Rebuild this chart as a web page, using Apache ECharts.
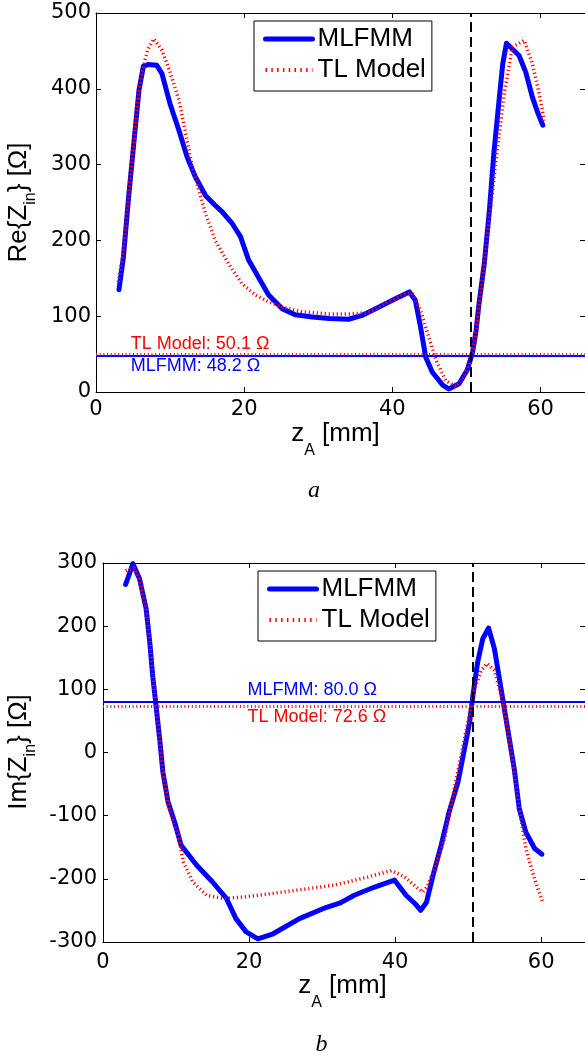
<!DOCTYPE html>
<html>
<head>
<meta charset="utf-8">
<script src="https://cdn.jsdelivr.net/npm/echarts@6/dist/echarts.min.js"></script>
<style>
  html, body { margin: 0; padding: 0; background: #fff; }
  #chart { width: 585px; height: 1064px; }
</style>
</head>
<body>
<div id="chart"></div>
<script>
// Input impedance versus feed position z_A [mm]: real part (a) and imaginary part (b)
const reMlfmm = [[3.1,135],[3.7,178],[4.4,257],[5.1,328],[5.8,398],[6.4,430],[7.0,432],[8.2,431],[8.9,420],[10.0,380],[11.2,345],[12.3,310],[13.4,284],[14.8,259],[16.0,247],[17.0,238],[18.4,222],[19.5,205],[20.6,174],[22.0,150],[23.3,128],[25.1,110],[26.9,102],[29.2,99],[31.5,97],[34.1,96],[35.9,101],[38.2,112],[40.4,123],[42.3,132],[43.1,121],[43.8,86],[44.5,46],[45.4,26],[46.8,9],[47.6,4],[49.0,11],[50.1,29],[50.8,51],[51.3,81],[51.7,117],[52.4,169],[53.1,240],[53.7,315],[54.4,385],[54.9,433],[55.4,460],[57.1,444],[58.0,422],[58.9,389],[59.6,369],[60.3,352]];
const reTl = [[3.0,145],[3.7,185],[4.4,260],[5.1,330],[5.8,398],[6.4,430],[7.0,452],[7.8,466],[8.9,451],[10.0,422],[11.2,385],[12.1,341],[13.0,297],[13.9,266],[14.8,235],[16.1,200],[17.9,169],[19.7,143],[21.5,128],[23.3,119],[25.1,112],[27.8,106],[31.4,103],[34.5,103],[36.8,105],[39.1,117],[41.4,128],[42.7,130],[43.8,108],[44.9,73],[45.9,42],[47.2,15],[48.6,7],[49.7,20],[50.6,42],[51.3,80],[52.2,152],[53.1,230],[54.0,306],[55.1,394],[56.2,455],[57.8,464],[58.9,433],[59.8,394],[60.5,358]];
const imMlfmm = [[3.1,266],[4.1,299],[5.0,275],[5.9,228],[6.4,175],[6.8,122],[7.3,70],[7.8,17],[8.2,-31],[8.9,-78],[9.8,-110],[10.7,-147],[12.8,-178],[15.0,-205],[16.9,-231],[18.2,-263],[19.6,-284],[21.2,-295],[23.3,-287],[26.9,-263],[30.6,-245],[32.5,-238],[34.4,-226],[37.2,-213],[39.9,-202],[41.5,-226],[42.7,-239],[43.5,-250],[44.3,-237],[45.2,-194],[46.3,-147],[47.4,-94],[48.6,-47],[49.5,6],[50.2,48],[50.65,90],[51.3,143],[52.0,180],[52.8,197],[53.6,164],[54.5,101],[55.4,38],[56.3,-25],[57.0,-89],[57.9,-126],[59.1,-152],[60.1,-161]];
const imTl = [[3.1,288],[4.3,292],[5.0,272],[5.9,228],[6.4,175],[6.8,122],[7.3,70],[7.8,17],[8.2,-31],[8.9,-80],[9.6,-110],[10.3,-131],[11.0,-173],[12.3,-205],[14.2,-226],[16.4,-231],[19.2,-229],[24.6,-221],[31.7,-210],[36.3,-197],[39.5,-187],[41.3,-197],[43.1,-215],[43.8,-221],[44.4,-212],[45.4,-184],[46.8,-136],[47.9,-68],[49.05,-4],[49.95,48],[50.9,101],[51.8,130],[52.6,141],[53.6,130],[54.5,91],[55.4,38],[56.3,-31],[57.0,-89],[57.9,-152],[59.1,-200],[60.2,-237]];

// Matched-impedance levels [Ω] and the chosen feed position [mm]
const reMlfmmRef = 48.2;
const reTlRef = 50.1;
const imMlfmmRef = 80.0;
const imTlRef = 72.6;
const zFeed = 50.6;

// Axis ticks
const zTicks = [0, 20, 40, 60];
const zMax = 66;
const reTicks = [0, 100, 200, 300, 400, 500];
const imTicks = [-300, -200, -100, 0, 100, 200, 300];

const BLUE = '#0000ff';
const RED = '#ff0000';
const SANS = 'Liberation Sans';
const TICK_FONT = 'DejaVu Sans';
const TL_DOTS = [1.2, 2.8];

function zAxes(grid, margin) {
  const base = {
    type: 'value', gridIndex: grid, min: zTicks[0], max: zMax,
    interval: zTicks[1] - zTicks[0],
    splitLine: { show: false },
    axisLine: { show: true, onZero: false, lineStyle: { color: '#000', width: 1 } },
    axisTick: { show: true, inside: true, length: 5, lineStyle: { color: '#000' } }
  };
  return [
    Object.assign({}, base, {
      position: 'bottom',
      axisLabel: {
        margin: margin, color: '#000', fontFamily: TICK_FONT, fontSize: 21,
        showMaxLabel: false,
        formatter: v => zTicks.indexOf(v) >= 0 ? String(v) : ''
      }
    }),
    Object.assign({}, base, { position: 'top', axisLabel: { show: false } })
  ];
}

function valueAxes(grid, ticks, margin) {
  const base = {
    type: 'value', gridIndex: grid, min: ticks[0], max: ticks[ticks.length - 1],
    interval: ticks[1] - ticks[0],
    splitLine: { show: false },
    axisLine: { show: true, onZero: false, lineStyle: { color: '#000', width: 1 } },
    axisTick: { show: true, inside: true, length: 5, lineStyle: { color: '#000' } }
  };
  return [
    Object.assign({}, base, {
      position: 'left',
      axisLabel: { margin: margin, color: '#000', fontFamily: TICK_FONT, fontSize: 21 }
    }),
    Object.assign({}, base, { position: 'right', axisLabel: { show: false } })
  ];
}

function refLabel(x, y, text, color, dy) {
  return {
    coord: [x, y],
    label: {
      show: true, position: 'right', distance: 0, offset: [0, dy],
      formatter: text, color: color, fontFamily: SANS, fontSize: 18
    }
  };
}

const feedLine = { xAxis: zFeed, lineStyle: { color: '#000', width: 2, type: [10, 5] } };

function mlfmmSeries(data, xi, yi, ref, labelAt, dy) {
  return {
    name: 'MLFMM', type: 'line', xAxisIndex: xi, yAxisIndex: yi, data: data,
    symbol: 'none', smooth: false, animation: false,
    lineStyle: { color: BLUE, width: 5, join: 'round', cap: 'round' },
    itemStyle: { color: BLUE },
    markLine: {
      silent: true, symbol: 'none', animation: false, label: { show: false },
      data: [{ yAxis: ref, lineStyle: { color: BLUE, width: 2, type: 'solid' } }]
    },
    markPoint: {
      silent: true, symbol: 'circle', symbolSize: 0, animation: false,
      data: [refLabel(labelAt, ref, 'MLFMM: ' + ref.toFixed(1) + ' Ω', BLUE, dy)]
    }
  };
}

function tlSeries(data, xi, yi, ref, labelAt, dy) {
  return {
    name: 'TL Model', type: 'line', xAxisIndex: xi, yAxisIndex: yi, data: data,
    symbol: 'none', smooth: false, animation: false,
    lineStyle: { color: RED, width: 3.5, type: TL_DOTS, cap: 'butt' },
    itemStyle: { color: RED },
    markLine: {
      silent: true, symbol: 'none', animation: false, label: { show: false },
      data: [
        { yAxis: ref, lineStyle: { color: RED, width: 3, type: [1, 2.7] } },
        feedLine
      ]
    },
    markPoint: {
      silent: true, symbol: 'circle', symbolSize: 0, animation: false,
      data: [refLabel(labelAt, ref, 'TL Model: ' + ref.toFixed(1) + ' Ω', RED, dy)]
    }
  };
}

// Legend samples show the line only, no marker
const hiddenMarker = { color: 'transparent', borderColor: 'transparent', borderWidth: 0, opacity: 0 };

function legendAt(left, top) {
  return {
    orient: 'vertical', left: left, top: top,
    backgroundColor: '#fff', borderColor: '#000', borderWidth: 1, borderRadius: 0,
    padding: [5, 6, 8, 9], itemGap: 5, itemWidth: 47, itemHeight: 26,
    selectedMode: false,
    textStyle: { fontFamily: SANS, fontSize: 26, lineHeight: 26, color: '#000' },
    data: [
      { name: 'MLFMM', itemStyle: hiddenMarker, lineStyle: { width: 5, color: BLUE, opacity: 1 } },
      { name: 'TL Model', itemStyle: hiddenMarker, lineStyle: { width: 4, color: RED, opacity: 1, type: [1.5, 4.3] } }
    ]
  };
}

const titleMain = { fontFamily: SANS, fontSize: 26, lineHeight: 26, verticalAlign: 'top', fill: '#000' };
const titleSubY = { fontFamily: SANS, fontSize: 16, lineHeight: 16, verticalAlign: 'top', padding: [16.5, 0, 0, 0], fill: '#000' };
const titleSubX = { fontFamily: SANS, fontSize: 16, lineHeight: 16, verticalAlign: 'top', padding: [21.5, 0, 0, 0], fill: '#000' };

function yTitle(cx, cy, prefix) {
  return {
    type: 'text', x: cx, y: cy, rotation: Math.PI / 2, silent: true,
    style: {
      text: '{m|' + prefix + '{Z}{s|in}} [Ω]',
      fontFamily: SANS, fontSize: 26, lineHeight: 26, fill: '#000',
      align: 'center', verticalAlign: 'middle',
      rich: { m: titleMain, s: titleSubY }
    }
  };
}

function xTitle(cx, top) {
  return {
    type: 'text', x: cx, y: top, silent: true,
    style: {
      text: '{m|z}{s|A}{m| [mm]}',
      fontFamily: SANS, fontSize: 26, lineHeight: 26, fill: '#000',
      align: 'center', verticalAlign: 'top',
      rich: { m: titleMain, s: titleSubX }
    }
  };
}

function caption(cx, cy, letter) {
  return {
    type: 'text', x: cx, y: cy, silent: true,
    style: {
      text: letter, fontFamily: 'Liberation Serif', fontStyle: 'italic', fontSize: 24,
      fill: '#000', align: 'center', verticalAlign: 'middle'
    }
  };
}

const chart = echarts.init(document.getElementById('chart'), null, { renderer: 'canvas' });
chart.setOption({
  backgroundColor: '#fff',
  animation: false,
  grid: [
    { left: 96, top: 13, width: 489, height: 379, outerBoundsMode: 'none', containLabel: false },
    { left: 103, top: 563, width: 482, height: 379, outerBoundsMode: 'none', containLabel: false }
  ],
  xAxis: [].concat(zAxes(0, 7), zAxes(1, 10)),
  yAxis: [].concat(valueAxes(0, reTicks, 5), valueAxes(1, imTicks, 6)),
  legend: [legendAt(254, 21), legendAt(258, 571)],
  series: [
    mlfmmSeries(reMlfmm, 0, 0, reMlfmmRef, 4.7, 11),
    tlSeries(reTl, 0, 0, reTlRef, 4.7, -10),
    mlfmmSeries(imMlfmm, 2, 2, imMlfmmRef, 19.8, -12),
    tlSeries(imTl, 2, 2, imTlRef, 19.8, 10)
  ],
  graphic: [
    yTitle(19, 202.5, 'Re'),
    yTitle(19, 752, 'Im'),
    xTitle(335.5, 421),
    xTitle(342.5, 973),
    caption(314, 491, 'a'),
    caption(321.5, 1045, 'b')
  ]
});
</script>
</body>
</html>
